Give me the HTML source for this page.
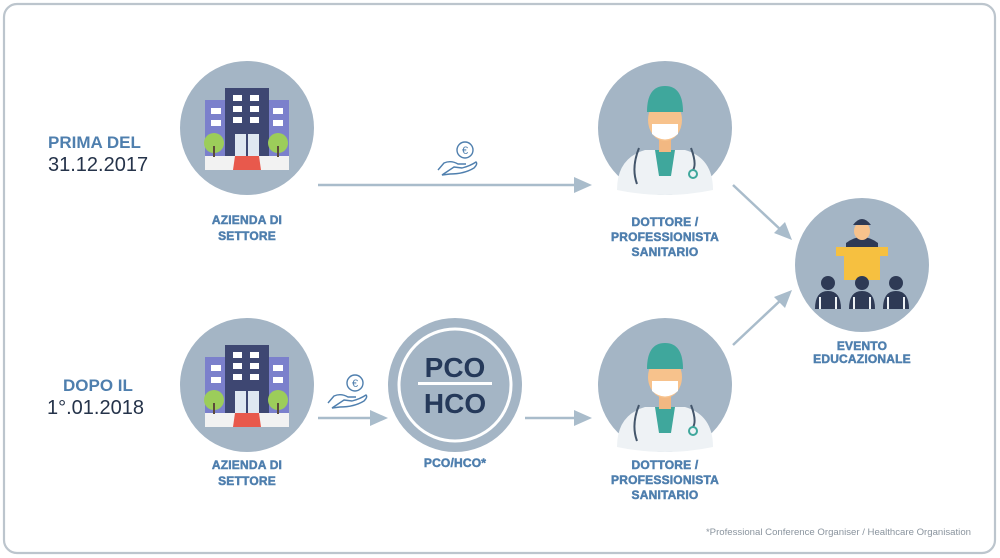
<!DOCTYPE html>
<html><head><meta charset="utf-8"><style>
html,body{margin:0;padding:0;background:#fff;}
svg{display:block;}
text{font-family:"Liberation Sans",sans-serif;}
.lb{fill:#4f7fae;font-weight:bold;font-size:12px;text-anchor:middle;stroke:#4f7fae;stroke-width:0.5;letter-spacing:0.2px;}
</style></head><body>
<svg width="1000" height="558" viewBox="0 0 1000 558" xmlns="http://www.w3.org/2000/svg">
<defs>
<g id="bld">
 <circle cx="0" cy="0" r="67" fill="#a4b5c5"/>
 <rect x="-42" y="-28" width="84" height="56" fill="#7b80cc"/>
 <rect x="-22" y="-40" width="44" height="68" fill="#3e4772"/>
 <g fill="#fff">
  <rect x="-36" y="-20" width="10" height="6"/><rect x="-36" y="-8" width="10" height="6"/>
  <rect x="26" y="-20" width="10" height="6"/><rect x="26" y="-8" width="10" height="6"/>
  <rect x="-14" y="-33" width="9" height="6"/><rect x="3" y="-33" width="9" height="6"/>
  <rect x="-14" y="-22" width="9" height="6"/><rect x="3" y="-22" width="9" height="6"/>
  <rect x="-14" y="-11" width="9" height="6"/><rect x="3" y="-11" width="9" height="6"/>
  <rect x="-12" y="6" width="24" height="22" fill="#dfe7f1"/>
  <rect x="-42" y="28" width="84" height="14" fill="#f2f2f2"/>
 </g>
 <rect x="-1" y="6" width="2" height="22" fill="#3e4772"/>
 <path d="M-12 28 H12 L14 42 H-14 Z" fill="#e8594c"/>
 <circle cx="-33" cy="15" r="10" fill="#9ccd5a"/><rect x="-34" y="18" width="2" height="11" fill="#5b4a3a"/>
 <circle cx="31" cy="15" r="10" fill="#9ccd5a"/><rect x="30" y="18" width="2" height="11" fill="#5b4a3a"/>
</g>
<g id="doc">
 <circle cx="0" cy="0" r="67" fill="#a4b5c5"/>
 <path d="M-48 62 Q-48 30 -20 22 L20 22 Q48 30 48 62 Q0 72 -48 62Z" fill="#eef2f5"/>
 <path d="M-10 22 L10 22 L6 48 L-6 48Z" fill="#3fa79c"/>
 <rect x="-6" y="8" width="12" height="16" fill="#f2b882"/>
 <ellipse cx="0" cy="-8" rx="17" ry="21" fill="#f7c28c"/>
 <path d="M-18 -16 Q-18 -42 0 -42 Q18 -42 18 -16 Z" fill="#3fa79c"/>
 <path d="M-13 -4 H13 V6 Q0 17 -13 6Z" fill="#fff"/>
 <path d="M-26 20 Q-34 40 -28 56 M26 20 Q32 36 28 42" stroke="#44566b" stroke-width="2" fill="none"/>
 <circle cx="28" cy="46" r="4" fill="none" stroke="#3fa79c" stroke-width="2"/>
</g>
<g id="euro" fill="none" stroke="#4f7fae" stroke-width="1.4">
 <circle cx="9" cy="-10" r="8"/>
 <text x="9" y="-6" font-size="11" fill="#4f7fae" stroke="none" text-anchor="middle">€</text>
 <path d="M-18 10 L-12 3 Q-5 0 2 4 L10 4 M-2 7 L6 8 Q14 6 20 2 Q22 4 18 8 Q8 14 -6 14 L-14 15 Z"/>
</g>
</defs>
<rect x="4" y="4" width="991" height="549" rx="13" fill="#fff" stroke="#bcc5cd" stroke-width="2.2"/>

<g stroke="#a9bccb" stroke-width="2.5" fill="#a9bccb">
 <line x1="318" y1="185" x2="580" y2="185"/><path d="M592 185 L574 177 L574 193Z" stroke="none"/>
 <line x1="318" y1="418" x2="376" y2="418"/><path d="M388 418 L370 410 L370 426Z" stroke="none"/>
 <line x1="525" y1="418" x2="580" y2="418"/><path d="M592 418 L574 410 L574 426Z" stroke="none"/>
 <line x1="733" y1="185" x2="782" y2="231"/><path d="M792 240 L774 233 L785 222Z" stroke="none"/>
 <line x1="733" y1="345" x2="782" y2="299"/><path d="M792 290 L785 308 L774 297Z" stroke="none"/>
</g>

<use href="#bld" x="247" y="128"/>
<use href="#bld" x="247" y="385"/>
<use href="#doc" x="665" y="128"/>
<use href="#doc" x="665" y="385"/>

<g transform="translate(862,265)">
 <circle r="67" fill="#a4b5c5"/>
 <path d="M-16 -22 Q0 -34 16 -22 V-16 H-16Z" fill="#2e3a55"/>
 <ellipse cx="0" cy="-34" rx="8" ry="9" fill="#f7c28c"/>
 <path d="M-9 -40 Q0 -52 9 -40 Z" fill="#2e3a55"/>
 <rect x="-26" y="-18" width="52" height="9" fill="#f6c040"/>
 <rect x="-18" y="-9" width="36" height="24" fill="#f6c040"/>
 <g fill="#2e3a55">
  <circle cx="-34" cy="18" r="7"/><circle cx="0" cy="18" r="7"/><circle cx="34" cy="18" r="7"/>
  <path d="M-47 44 Q-47 26 -34 26 Q-21 26 -21 44Z"/>
  <path d="M-13 44 Q-13 26 0 26 Q13 26 13 44Z"/>
  <path d="M21 44 Q21 26 34 26 Q47 26 47 44Z"/>
 </g>
 <path d="M-42 44 V32 M-26 44 V32 M-8 44 V32 M8 44 V32 M26 44 V32 M42 44 V32" stroke="#eef2f5" stroke-width="2"/>
</g>

<g transform="translate(455,385)">
 <circle r="67" fill="#a4b5c5"/>
 <circle r="56" fill="none" stroke="#fff" stroke-width="3"/>
 <text x="0" y="-8" font-size="28" font-weight="bold" fill="#25395a" text-anchor="middle">PCO</text>
 <rect x="-37" y="-3" width="74" height="3" fill="#fff"/>
 <text x="0" y="28" font-size="28" font-weight="bold" fill="#25395a" text-anchor="middle">HCO</text>
</g>

<use href="#euro" x="456" y="160"/>
<use href="#euro" x="346" y="393"/>

<text class="lb" x="247" y="224">AZIENDA DI</text>
<text class="lb" x="247" y="240">SETTORE</text>
<text class="lb" x="247" y="469">AZIENDA DI</text>
<text class="lb" x="247" y="485">SETTORE</text>
<text class="lb" x="665" y="226">DOTTORE /</text>
<text class="lb" x="665" y="241">PROFESSIONISTA</text>
<text class="lb" x="665" y="256">SANITARIO</text>
<text class="lb" x="665" y="469">DOTTORE /</text>
<text class="lb" x="665" y="484">PROFESSIONISTA</text>
<text class="lb" x="665" y="499">SANITARIO</text>
<text class="lb" x="862" y="350">EVENTO</text>
<text class="lb" x="862" y="363">EDUCAZIONALE</text>
<text class="lb" x="455" y="467" font-size="10.5">PCO/HCO*</text>

<text x="48" y="148" font-size="17" font-weight="bold" fill="#4f7fae">PRIMA DEL</text>
<text x="48" y="171" font-size="20" fill="#25334a">31.12.2017</text>
<text x="63" y="391" font-size="17" font-weight="bold" fill="#4f7fae">DOPO IL</text>
<text x="47" y="414" font-size="20" fill="#25334a">1°.01.2018</text>

<text x="971" y="535" font-size="9.6" fill="#8a949e" text-anchor="end">*Professional Conference Organiser / Healthcare Organisation</text>
</svg>
</body></html>
